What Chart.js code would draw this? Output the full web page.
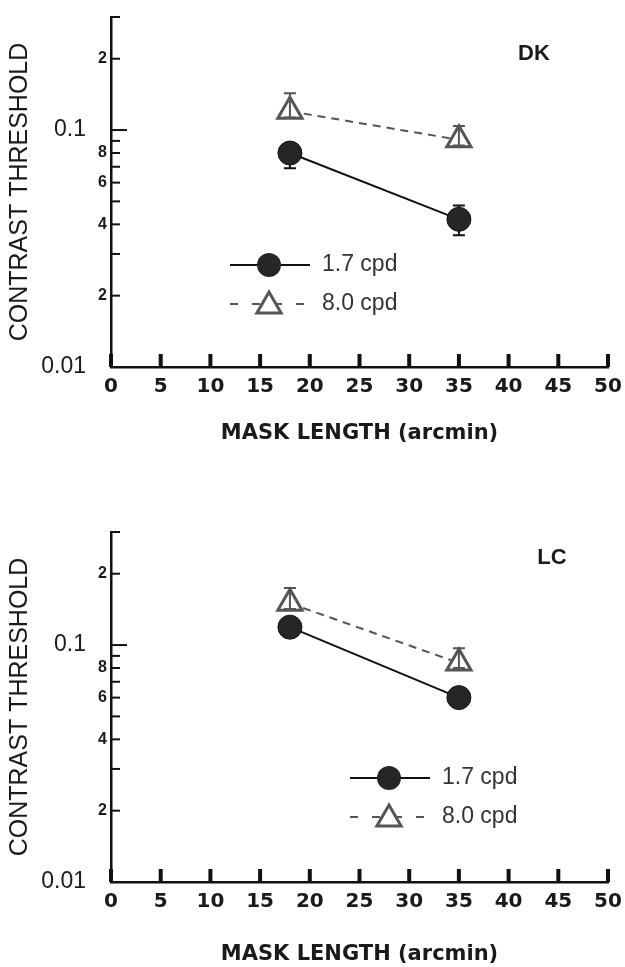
<!DOCTYPE html>
<html>
<head>
<meta charset="utf-8">
<script src="https://cdn.jsdelivr.net/npm/chart.js@4.4.1/dist/chart.umd.min.js"></script>
<style>
  body { margin: 0; background: #fff; overflow: hidden; }
  .panel { position: absolute; left: 0; width: 625px; }
  #panelTop { top: 0; height: 480px; }
  #panelBottom { top: 480px; height: 487px; }
</style>
</head>
<body>
<div class="panel" id="panelTop"><canvas id="chartDK"></canvas></div>
<div class="panel" id="panelBottom"><canvas id="chartLC"></canvas></div>
<script>
// mask length (arcmin)
var maskLength = [18, 35];
var seriesNames = ['1.7 cpd', '8.0 cpd'];

// observer DK
var dk17 = [0.080, 0.042];
var dk17Lo = [0.069, 0.036];
var dk17Hi = [0.086, 0.048];
var dk80 = [0.120, 0.091];
var dk80Lo = [0.113, 0.086];
var dk80Hi = [0.143, 0.104];

// observer LC
var lc17 = [0.119, 0.060];
var lc17Lo = [0.110, 0.055];
var lc17Hi = [0.128, 0.065];
var lc80 = [0.150, 0.084];
var lc80Lo = [0.142, 0.080];
var lc80Hi = [0.174, 0.097];

// log axis ticks
var yTickValues = [0.01, 0.02, 0.03, 0.04, 0.05, 0.06, 0.07, 0.08, 0.09, 0.1, 0.2, 0.3];
var yTickLabels = ['0.01', '2', '', '4', '', '6', '', '8', '', '0.1', '2', ''];

var inkColor = '#1a1a1a';
var grayColor = '#555';

// inward tick marks + y labels
var axisDecor = {
    id: 'axisDecor',
    afterDraw: function (chart) {
        var ctx = chart.ctx;
        var xs = chart.scales.x;
        var ys = chart.scales.y;
        var area = chart.chartArea;
        ctx.save();
        ctx.strokeStyle = '#111';
        ctx.fillStyle = inkColor;
        ctx.textBaseline = 'middle';
        ctx.textAlign = 'right';
        yTickValues.forEach(function (v, i) {
            var py = ys.getPixelForValue(v);
            if (v > 0.01) {
                var len = (v === 0.1) ? 16 : 9;
                ctx.lineWidth = 2;
                ctx.beginPath();
                ctx.moveTo(area.left, py);
                ctx.lineTo(area.left + len, py);
                ctx.stroke();
            }
            var txt = yTickLabels[i];
            if (!txt) return;
            if (txt.indexOf('0.') === 0) {
                ctx.font = '23px "Liberation Sans"';
                ctx.fillText(txt, area.left - 25, py);
            } else {
                ctx.font = 'bold 16px "Liberation Sans"';
                ctx.fillText(txt, area.left - 4, py);
            }
        });
        // x ticks pointing up
        ctx.lineWidth = 4;
        xs.ticks.forEach(function (t) {
            var px = xs.getPixelForValue(t.value);
            ctx.beginPath();
            ctx.moveTo(px, area.bottom);
            ctx.lineTo(px, area.bottom - 13);
            ctx.stroke();
        });
        ctx.restore();
    }
};

function drawErrors(chart, onTop) {
    var ctx = chart.ctx;
    var ys = chart.scales.y;
    ctx.save();
    chart.data.datasets.forEach(function (ds, i) {
        if (!!ds.errOnTop !== onTop) return;
        var meta = chart.getDatasetMeta(i);
        ctx.strokeStyle = ds.pointBorderColor;
        ctx.lineWidth = 2;
        meta.data.forEach(function (pt, j) {
            var top = ys.getPixelForValue(ds.errHigh[j]);
            var bot = ys.getPixelForValue(ds.errLow[j]);
            ctx.beginPath();
            ctx.moveTo(pt.x, top);
            ctx.lineTo(pt.x, bot);
            ctx.moveTo(pt.x - 6, top);
            ctx.lineTo(pt.x + 6, top);
            ctx.moveTo(pt.x - 6, bot);
            ctx.lineTo(pt.x + 6, bot);
            ctx.stroke();
        });
    });
    ctx.restore();
}

// vertical error bars (circles: under the marker, triangles: over it)
var errorBars = {
    id: 'errorBars',
    beforeDatasetsDraw: function (chart) { drawErrors(chart, false); },
    afterDatasetsDraw: function (chart) { drawErrors(chart, true); }
};

// legend + panel name
var panelExtras = {
    id: 'panelExtras',
    afterDraw: function (chart, args, opts) {
        var ctx = chart.ctx;
        var x0 = opts.legendX, y0 = opts.legendY;
        ctx.save();
        // row 1
        ctx.strokeStyle = '#111';
        ctx.lineWidth = 2;
        ctx.beginPath();
        ctx.moveTo(x0, y0);
        ctx.lineTo(x0 + 80, y0);
        ctx.stroke();
        ctx.fillStyle = '#262626';
        ctx.beginPath();
        ctx.arc(x0 + 39, y0, 12, 0, Math.PI * 2);
        ctx.fill();
        // row 2
        var y1 = y0 + 39;
        ctx.strokeStyle = grayColor;
        ctx.setLineDash([8, 14]);
        ctx.beginPath();
        ctx.moveTo(x0, y1);
        ctx.lineTo(x0 + 80, y1);
        ctx.stroke();
        ctx.setLineDash([]);
        ctx.fillStyle = '#fff';
        ctx.lineWidth = 3;
        Chart.helpers.drawPoint(ctx, {pointStyle: 'triangle', radius: 14, rotation: 0, borderWidth: 3}, x0 + 39, y1 + 2);
        // labels
        ctx.fillStyle = '#333';
        ctx.font = '23px "Liberation Sans"';
        ctx.textAlign = 'left';
        ctx.textBaseline = 'middle';
        ctx.fillText(seriesNames[0], x0 + 92, y0);
        ctx.fillText(seriesNames[1], x0 + 92, y1);
        // observer
        ctx.fillStyle = inkColor;
        ctx.font = 'bold 22px "Liberation Sans"';
        ctx.textAlign = 'center';
        ctx.fillText(opts.name, opts.nameX, opts.nameY);
        ctx.restore();
    }
};

function toPoints(vals) {
    return maskLength.map(function (x, i) { return {x: x, y: vals[i]}; });
}

function noPadding() {
    return {left: 0, top: 0, right: 0, bottom: 0};
}

function makeChart(canvasId, cfg) {
    var ctx = document.getElementById(canvasId).getContext('2d');
    return new Chart(ctx, {
        type: 'line',
        data: {
            datasets: [{
                label: seriesNames[0],
                data: toPoints(cfg.d17),
                errLow: cfg.d17Lo,
                errHigh: cfg.d17Hi,
                errOnTop: false,
                borderColor: '#111',
                borderWidth: 2,
                pointStyle: 'circle',
                pointRadius: 12,
                pointBackgroundColor: '#262626',
                pointBorderColor: '#111',
                pointBorderWidth: 1
            }, {
                label: seriesNames[1],
                data: toPoints(cfg.d80),
                errLow: cfg.d80Lo,
                errHigh: cfg.d80Hi,
                errOnTop: true,
                borderColor: grayColor,
                borderWidth: 2,
                borderDash: [8, 6],
                pointStyle: 'triangle',
                pointRadius: 14,
                pointBackgroundColor: '#fff',
                pointBorderColor: grayColor,
                pointBorderWidth: 3
            }]
        },
        options: {
            responsive: true,
            maintainAspectRatio: false,
            animation: false,
            devicePixelRatio: 1,
            layout: {padding: {top: cfg.padTop, right: 13, left: 0, bottom: 0}},
            plugins: {
                legend: {display: false},
                tooltip: {enabled: false},
                panelExtras: {
                    legendX: cfg.legendX, legendY: cfg.legendY,
                    name: cfg.name, nameX: cfg.nameX, nameY: cfg.nameY
                }
            },
            scales: {
                x: {
                    type: 'linear',
                    min: 0,
                    max: 50,
                    ticks: {
                        stepSize: 5,
                        padding: 0,
                        color: inkColor,
                        // tall line box keeps the labels below the axis without extra side padding
                        font: {family: 'DejaVu Sans', size: 20, weight: 'bold', lineHeight: '40px'}
                    },
                    grid: {display: false, drawTicks: false},
                    border: {display: true, width: 2.5, color: '#111'},
                    title: {
                        display: true,
                        text: 'MASK LENGTH (arcmin)',
                        color: inkColor,
                        font: {family: 'DejaVu Sans', size: 21, weight: 'bold'},
                        padding: {top: 0, bottom: cfg.xTitlePad}
                    },
                    afterFit: function (scale) {
                        scale.height = cfg.xHeight;
                        scale.paddingLeft = 0;
                        scale.paddingRight = 0;
                        scale.getPadding = noPadding;
                    }
                },
                y: {
                    type: 'logarithmic',
                    min: 0.01,
                    max: 0.3,
                    ticks: {display: false},
                    grid: {display: false, drawTicks: false},
                    border: {display: true, width: 2.5, color: '#111'},
                    title: {
                        display: true,
                        text: 'CONTRAST THRESHOLD',
                        color: inkColor,
                        font: {family: 'Liberation Sans', size: 25},
                        padding: {top: 5, bottom: 0}
                    },
                    afterFit: function (scale) {
                        scale.width = 111;
                        scale.getPadding = noPadding;
                    }
                }
            }
        },
        plugins: [errorBars, axisDecor, panelExtras]
    });
}

makeChart('chartDK', {
    d17: dk17, d17Lo: dk17Lo, d17Hi: dk17Hi,
    d80: dk80, d80Lo: dk80Lo, d80Hi: dk80Hi,
    padTop: 15, xHeight: 113, xTitlePad: 34,
    legendX: 230, legendY: 265,
    name: 'DK', nameX: 534, nameY: 54
});

makeChart('chartLC', {
    d17: lc17, d17Lo: lc17Lo, d17Hi: lc17Hi,
    d80: lc80, d80Lo: lc80Lo, d80Hi: lc80Hi,
    padTop: 52, xHeight: 85, xTitlePad: 0,
    legendX: 350, legendY: 298,
    name: 'LC', nameX: 552, nameY: 78
});
</script>
</body>
</html>
